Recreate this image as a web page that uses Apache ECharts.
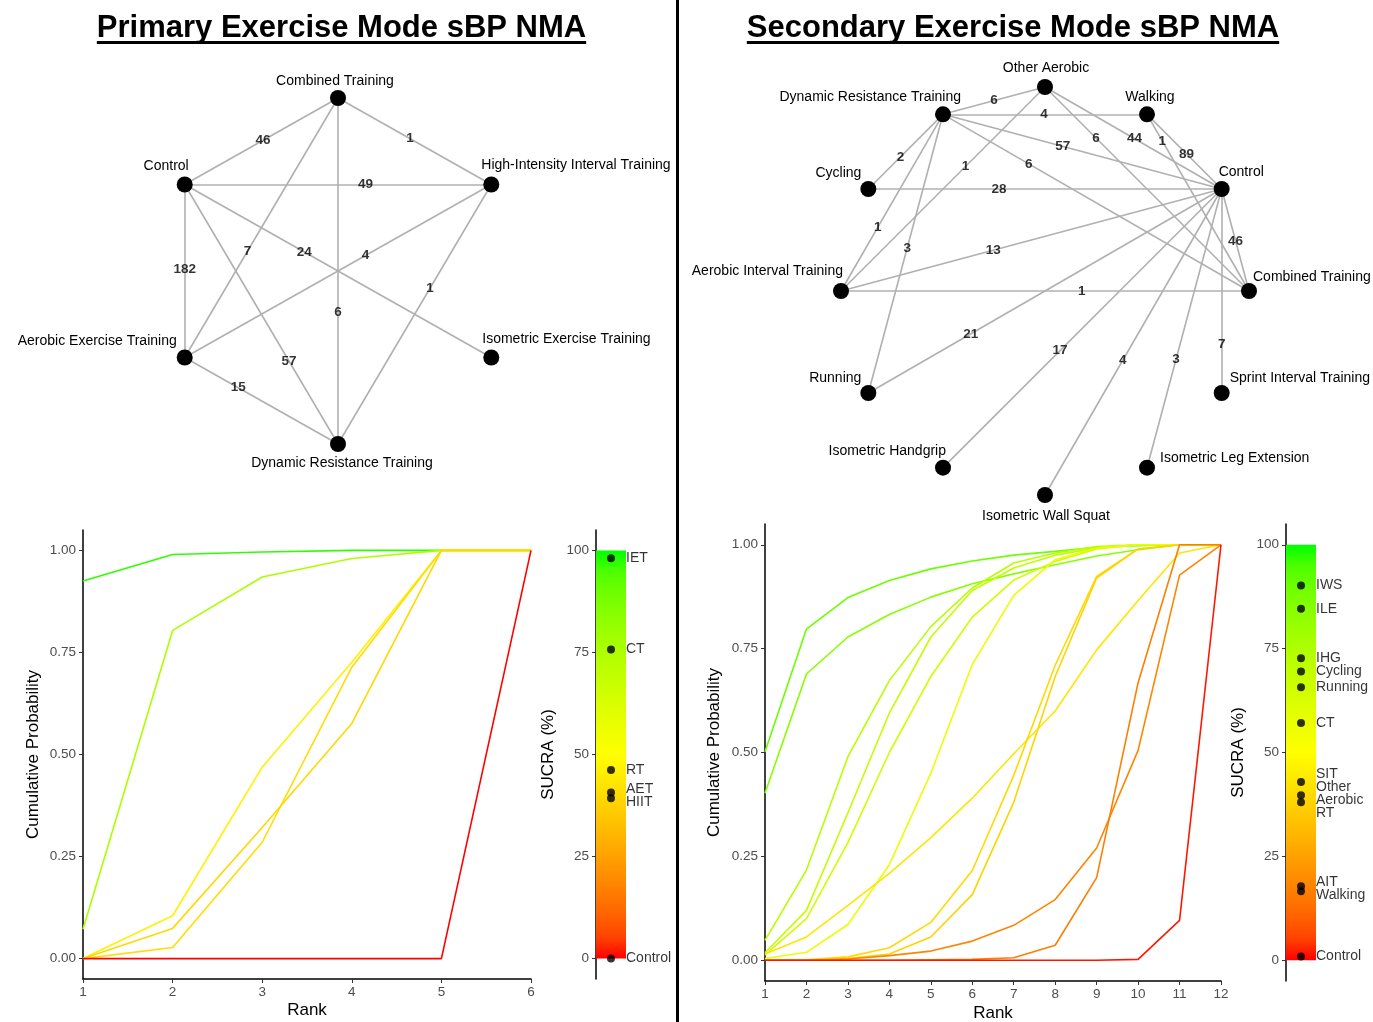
<!DOCTYPE html>
<html>
<head>
<meta charset="utf-8">
<script src="https://cdn.jsdelivr.net/npm/echarts@6/dist/echarts.min.js"></script>
<style>
html,body{margin:0;padding:0;background:#fff;}
#chart{width:1373px;height:1022px;}
</style>
</head>
<body>
<div id="chart"></div>
<script>
// ================= DATA =================
const primaryTitle = 'Primary Exercise Mode sBP NMA';
const secondaryTitle = 'Secondary Exercise Mode sBP NMA';

// Network nodes, listed clockwise around the circle
const primaryNodes = ['Combined Training', 'High-Intensity Interval Training', 'Isometric Exercise Training',
  'Dynamic Resistance Training', 'Aerobic Exercise Training', 'Control'];
const primaryLinks = [
  ['Control', 'Combined Training', 46],
  ['Combined Training', 'High-Intensity Interval Training', 1],
  ['Control', 'High-Intensity Interval Training', 49],
  ['Control', 'Aerobic Exercise Training', 182],
  ['Combined Training', 'Aerobic Exercise Training', 7],
  ['Control', 'Isometric Exercise Training', 24],
  ['Aerobic Exercise Training', 'High-Intensity Interval Training', 4],
  ['Combined Training', 'Dynamic Resistance Training', 6],
  ['High-Intensity Interval Training', 'Dynamic Resistance Training', 1],
  ['Control', 'Dynamic Resistance Training', 57],
  ['Aerobic Exercise Training', 'Dynamic Resistance Training', 15]
];

const secondaryNodes = ['Control', 'Combined Training', 'Sprint Interval Training', 'Isometric Leg Extension',
  'Isometric Wall Squat', 'Isometric Handgrip', 'Running', 'Aerobic Interval Training', 'Cycling',
  'Dynamic Resistance Training', 'Other Aerobic', 'Walking'];
const secondaryLinks = [
  ['Dynamic Resistance Training', 'Other Aerobic', 6],
  ['Dynamic Resistance Training', 'Walking', 4],
  ['Dynamic Resistance Training', 'Control', 57],
  ['Dynamic Resistance Training', 'Combined Training', 6],
  ['Dynamic Resistance Training', 'Cycling', 2],
  ['Dynamic Resistance Training', 'Aerobic Interval Training', 1],
  ['Dynamic Resistance Training', 'Running', 3],
  ['Other Aerobic', 'Aerobic Interval Training', 1],
  ['Other Aerobic', 'Control', 44],
  ['Other Aerobic', 'Combined Training', 6],
  ['Walking', 'Control', 89],
  ['Walking', 'Combined Training', 1],
  ['Cycling', 'Control', 28],
  ['Aerobic Interval Training', 'Control', 13],
  ['Aerobic Interval Training', 'Combined Training', 1],
  ['Control', 'Combined Training', 46],
  ['Control', 'Running', 21],
  ['Control', 'Isometric Handgrip', 17],
  ['Control', 'Isometric Wall Squat', 4],
  ['Control', 'Isometric Leg Extension', 3],
  ['Control', 'Sprint Interval Training', 7]
];

// Rankograms (cumulative probability by rank)
const primaryRanks = [1, 2, 3, 4, 5, 6];
const primaryTreatments = ['IET', 'CT', 'RT', 'AET', 'HIIT', 'Control'];
const primarySucra = [98.1, 75.7, 46.2, 40.7, 39.3, 0.0];
const pCumIET     = [0.925, 0.990, 0.996, 1.000, 1.000, 1.000];
const pCumCT      = [0.072, 0.804, 0.935, 0.980, 1.000, 1.000];
const pCumRT      = [0.000, 0.105, 0.469, 0.726, 1.000, 1.000];
const pCumAET     = [0.000, 0.027, 0.285, 0.714, 1.000, 1.000];
const pCumHIIT    = [0.000, 0.074, 0.321, 0.576, 1.000, 1.000];
const pCumControl = [0.000, 0.000, 0.000, 0.000, 0.000, 1.000];

const secondaryRanks = [1, 2, 3, 4, 5, 6, 7, 8, 9, 10, 11, 12];
const secondaryTreatments = ['IWS', 'ILE', 'IHG', 'Cycling', 'Running', 'CT', 'SIT', 'Other\nAerobic', 'RT', 'AIT', 'Walking', 'Control'];
const secondarySucra = [90.2, 84.6, 72.7, 69.5, 65.7, 57.1, 42.9, 39.7, 38.0, 17.8, 16.6, 0.9];
const sCumIWS     = [0.502, 0.797, 0.873, 0.914, 0.942, 0.961, 0.975, 0.984, 0.994, 0.998, 1.000, 1.000];
const sCumILE     = [0.402, 0.689, 0.778, 0.832, 0.874, 0.906, 0.930, 0.952, 0.973, 0.988, 1.000, 1.000];
const sCumIHG     = [0.048, 0.217, 0.490, 0.673, 0.803, 0.896, 0.956, 0.980, 0.996, 1.000, 1.000, 1.000];
const sCumCycling = [0.018, 0.120, 0.355, 0.595, 0.778, 0.890, 0.944, 0.975, 0.992, 1.000, 1.000, 1.000];
const sCumRunning = [0.013, 0.100, 0.283, 0.500, 0.683, 0.826, 0.915, 0.960, 0.990, 1.000, 1.000, 1.000];
const sCumCT      = [0.004, 0.019, 0.086, 0.230, 0.450, 0.712, 0.878, 0.964, 0.992, 1.000, 1.000, 1.000];
const sCumSIT     = [0.015, 0.056, 0.132, 0.209, 0.295, 0.390, 0.497, 0.600, 0.747, 0.866, 0.980, 1.000];
const sCumOA      = [0.000, 0.001, 0.008, 0.030, 0.091, 0.216, 0.445, 0.710, 0.924, 0.990, 1.000, 1.000];
const sCumRT      = [0.000, 0.000, 0.004, 0.015, 0.056, 0.158, 0.380, 0.683, 0.920, 0.990, 1.000, 1.000];
const sCumAIT     = [0.000, 0.000, 0.003, 0.011, 0.022, 0.046, 0.084, 0.146, 0.270, 0.505, 0.927, 1.000];
const sCumWalking = [0.000, 0.000, 0.000, 0.000, 0.001, 0.002, 0.006, 0.036, 0.199, 0.668, 1.000, 1.000];
const sCumControl = [0.000, 0.000, 0.000, 0.000, 0.000, 0.000, 0.000, 0.000, 0.000, 0.002, 0.096, 1.000];

const probTicks = [0, 0.25, 0.5, 0.75, 1];
const sucraTicks = [0, 25, 50, 75, 100];
const sucraScaleBar = [100];

// ================= STYLE (layout helpers, not data) =================
const FONT = '"Liberation Sans", Arial, Helvetica, sans-serif';
const PROB_RANGE = [-0.05, 1.05];
const SUCRA_RANGE = [-5, 105];
const GRIDS = [
  { left: 161, top: 98, width: 354, height: 346 },   // primary network
  { left: 841, top: 87, width: 408, height: 408 },   // secondary network
  { left: 83, top: 530, width: 448, height: 449 },   // primary rankogram
  { left: 596, top: 530, width: 30, height: 449 },   // primary SUCRA
  { left: 765, top: 524, width: 456, height: 457 },  // secondary rankogram
  { left: 1286, top: 524, width: 30, height: 457 }   // secondary SUCRA
];
// fraction along each link (from its first node) where the study count is written
const primaryEdgeLabelAt = [0.51, 0.47, 0.59, 0.49, 0.59, 0.39, 0.59, 0.62, 0.40, 0.68, 0.35];
const secondaryEdgeLabelAt = [0.50, 0.495, 0.43, 0.28, 0.57, 0.64, 0.48, 0.39, 0.506, 0.25, 0.53, 0.15,
  0.37, 0.40, 0.59, 0.51, 0.71, 0.58, 0.56, 0.61, 0.76];
// node label placement: [align, dx, dy] relative to node centre
const primaryNodeLabel = {
  'Combined Training': ['center', -3, -17],
  'High-Intensity Interval Training': ['left', -10, -19],
  'Isometric Exercise Training': ['left', -9, -18],
  'Dynamic Resistance Training': ['center', 4, 19],
  'Aerobic Exercise Training': ['right', -8, -16],
  'Control': ['right', 4, -18]
};
const secondaryNodeLabel = {
  'Control': ['left', -3, -17],
  'Combined Training': ['left', 4, -14],
  'Sprint Interval Training': ['left', 8, -15],
  'Isometric Leg Extension': ['left', 13, -10],
  'Isometric Wall Squat': ['center', 1, 21],
  'Isometric Handgrip': ['right', 3, -17],
  'Running': ['right', -7, -15],
  'Aerobic Interval Training': ['right', 2, -20],
  'Cycling': ['right', -7, -16],
  'Dynamic Resistance Training': ['right', 18, -17],
  'Other Aerobic': ['center', 1, -19],
  'Walking': ['center', 3, -17]
};

// ---- colour scale: red (0) -> yellow (50) -> green (100), interpolated in CIELAB ----
function toLin(c) { c /= 255; return c <= 0.04045 ? c / 12.92 : Math.pow((c + 0.055) / 1.055, 2.4); }
function toSrgb(c) {
  c = c <= 0.0031308 ? 12.92 * c : 1.055 * Math.pow(c, 1 / 2.4) - 0.055;
  return Math.round(Math.max(0, Math.min(1, c)) * 255);
}
const WHITE = [0.95047, 1.0, 1.08883];
function fLab(t) { return t > 216 / 24389 ? Math.cbrt(t) : (24389 / 27 * t + 16) / 116; }
function fInv(t) { const t3 = t * t * t; return t3 > 216 / 24389 ? t3 : (116 * t - 16) / (24389 / 27); }
function rgb2lab(rgb) {
  const r = toLin(rgb[0]), g = toLin(rgb[1]), b = toLin(rgb[2]);
  const x = (0.4124564 * r + 0.3575761 * g + 0.1804375 * b) / WHITE[0];
  const y = (0.2126729 * r + 0.7151522 * g + 0.0721750 * b) / WHITE[1];
  const z = (0.0193339 * r + 0.1191920 * g + 0.9503041 * b) / WHITE[2];
  const fx = fLab(x), fy = fLab(y), fz = fLab(z);
  return [116 * fy - 16, 500 * (fx - fy), 200 * (fy - fz)];
}
function lab2rgb(lab) {
  const fy = (lab[0] + 16) / 116, fx = fy + lab[1] / 500, fz = fy - lab[2] / 200;
  const x = fInv(fx) * WHITE[0], y = fInv(fy) * WHITE[1], z = fInv(fz) * WHITE[2];
  const r = 3.2404542 * x - 1.5371385 * y - 0.4985314 * z;
  const g = -0.9692660 * x + 1.8760108 * y + 0.0415560 * z;
  const b = 0.0556434 * x - 0.2040259 * y + 1.0572252 * z;
  return [toSrgb(r), toSrgb(g), toSrgb(b)];
}
const LAB_RED = rgb2lab([255, 0, 0]), LAB_YEL = rgb2lab([255, 255, 0]), LAB_GRN = rgb2lab([0, 255, 0]);
function sucraColor(v) {
  let a, b, t;
  if (v >= 50) { a = LAB_YEL; b = LAB_GRN; t = (v - 50) / 50; }
  else { a = LAB_RED; b = LAB_YEL; t = v / 50; }
  const c = lab2rgb([a[0] + t * (b[0] - a[0]), a[1] + t * (b[1] - a[1]), a[2] + t * (b[2] - a[2])]);
  return 'rgb(' + c.join(',') + ')';
}

function networkSeries(nodes, links, startDeg, nodeLabel, edgeAt, axisIdx) {
  const n = nodes.length;
  const pos = {};
  nodes.forEach(function (name, i) {
    const a = (startDeg - i * 360 / n) * Math.PI / 180;
    pos[name] = [Math.cos(a), Math.sin(a)];
  });
  const graph = {
    type: 'graph', coordinateSystem: 'cartesian2d', xAxisIndex: axisIdx, yAxisIndex: axisIdx,
    layout: 'none', symbol: 'circle', symbolSize: 16, silent: true, z: 2,
    itemStyle: { color: '#000' },
    lineStyle: { color: '#b0b0b0', width: 1.6, opacity: 1, curveness: 0 },
    label: { show: true, color: '#000', fontSize: 14, fontFamily: FONT },
    data: nodes.map(function (name) {
      const s = nodeLabel[name];
      return {
        name: name, value: pos[name],
        label: { show: true, position: [8 + s[1], 8 + s[2]], align: s[0], verticalAlign: 'middle' }
      };
    }),
    links: links.map(function (l) { return { source: l[0], target: l[1], value: l[2] }; })
  };
  const counts = {
    type: 'scatter', xAxisIndex: axisIdx, yAxisIndex: axisIdx, silent: true, z: 3,
    symbolSize: 1, itemStyle: { color: 'rgba(0,0,0,0)' },
    label: {
      show: true, position: 'inside', color: '#000', fontWeight: 'bold', fontSize: 13.5, fontFamily: FONT,
      formatter: function (p) { return p.value[2]; }
    },
    data: links.map(function (l, k) {
      const p = pos[l[0]], q = pos[l[1]], t = edgeAt[k];
      return [p[0] + t * (q[0] - p[0]), p[1] + t * (q[1] - p[1]), l[2]];
    })
  };
  return [graph, counts];
}

function rankSeries(names, cums, sucras, ranks, axisIdx) {
  return names.map(function (nm, i) {
    const c = sucraColor(sucras[i]);
    return {
      type: 'line', name: nm, xAxisIndex: axisIdx, yAxisIndex: axisIdx, silent: true,
      symbol: 'none', showSymbol: false, z: 2 + i * 0.01,
      lineStyle: { color: c, width: 1.6 }, itemStyle: { color: c },
      data: ranks.map(function (r, k) { return [r, cums[i][k]]; })
    };
  });
}

// simple vertical repel so that neighbouring SUCRA labels do not overlap
const LABEL_LINE = 13;
function repelOffsets(names, values, pxPerUnit) {
  const items = values.map(function (v, i) {
    return { i: i, y: -v * pxPerUnit, y0: -v * pxPerUnit, h: names[i].split('\n').length * LABEL_LINE };
  });
  items.sort(function (a, b) { return a.y - b.y; });
  for (let iter = 0; iter < 500; iter++) {
    let moved = false;
    for (let k = 0; k < items.length - 1; k++) {
      const a = items[k], b = items[k + 1];
      const need = (a.h + b.h) / 2, d = b.y - a.y;
      if (d < need - 0.01) { const push = (need - d) / 2; a.y -= push; b.y += push; moved = true; }
    }
    if (!moved) break;
  }
  const out = [];
  items.forEach(function (it) { out[it.i] = it.y - it.y0; });
  return out;
}

function sucraSeries(names, sucras, axisIdx) {
  const g = GRIDS[axisIdx];
  const offs = repelOffsets(names, sucras, g.height / (SUCRA_RANGE[1] - SUCRA_RANGE[0]));
  const stops = [];
  for (let k = 0; k <= 20; k++) stops.push({ offset: k / 20, color: sucraColor(100 - k * 5) });
  return [
    {
      type: 'bar', xAxisIndex: axisIdx, yAxisIndex: axisIdx, silent: true, barWidth: 30, z: 1,
      itemStyle: { color: new echarts.graphic.LinearGradient(0, 0, 0, 1, stops) },
      data: sucraScaleBar
    },
    {
      type: 'scatter', xAxisIndex: axisIdx, yAxisIndex: axisIdx, silent: true, z: 3,
      symbolSize: 8, itemStyle: { color: '#000' },
      label: {
        show: true, position: 'right', distance: 11, color: '#000', fontSize: 14, lineHeight: LABEL_LINE,
        fontFamily: FONT, formatter: '{b}'
      },
      data: names.map(function (nm, i) {
        return { name: nm, value: [0, sucras[i]], label: { offset: [0, offs[i]] } };
      })
    }
  ];
}

const tickLabelStyle = { color: '#4d4d4d', fontSize: 13.5, fontFamily: FONT };
const axisNameStyle = { color: '#000', fontSize: 17, fontFamily: FONT };
const blackLine = { show: true, onZero: false, lineStyle: { color: '#000', width: 1.5 } };

function rankXAxis(gridIdx, ranks, gap) {
  return {
    type: 'value', gridIndex: gridIdx, min: ranks[0], max: ranks[ranks.length - 1], interval: 1,
    axisLine: blackLine, splitLine: { show: false },
    axisTick: { show: true, length: 4, lineStyle: { color: '#333' } },
    axisLabel: Object.assign({ margin: 6 }, tickLabelStyle),
    name: 'Rank', nameLocation: 'middle', nameGap: gap, nameTextStyle: axisNameStyle
  };
}
function probYAxis(gridIdx, gap) {
  return {
    type: 'value', gridIndex: gridIdx, min: PROB_RANGE[0], max: PROB_RANGE[1],
    axisLine: blackLine, splitLine: { show: false },
    axisTick: { show: true, length: 4, customValues: probTicks, lineStyle: { color: '#333' } },
    axisLabel: Object.assign({ margin: 7, customValues: probTicks, formatter: function (v) { return v.toFixed(2); } }, tickLabelStyle),
    name: 'Cumulative Probability', nameLocation: 'middle', nameGap: gap, nameTextStyle: axisNameStyle
  };
}
function sucraYAxis(gridIdx, gap) {
  return {
    type: 'value', gridIndex: gridIdx, min: SUCRA_RANGE[0], max: SUCRA_RANGE[1],
    axisLine: blackLine, splitLine: { show: false },
    axisTick: { show: true, length: 4, customValues: sucraTicks, lineStyle: { color: '#333' } },
    axisLabel: Object.assign({ margin: 7, customValues: sucraTicks }, tickLabelStyle),
    name: 'SUCRA (%)', nameLocation: 'middle', nameGap: gap, nameTextStyle: axisNameStyle
  };
}
function hiddenAxis(gridIdx) {
  return { type: 'value', gridIndex: gridIdx, min: -1, max: 1, show: false, splitLine: { show: false } };
}
function hiddenCat(gridIdx) {
  return { type: 'category', gridIndex: gridIdx, data: ['SUCRA'], show: false, boundaryGap: true };
}

// measure title widths for the underline
const measureCtx = document.createElement('canvas').getContext('2d');
const titleFont = 'bold 31px ' + FONT;
measureCtx.font = titleFont;
const wPrimary = measureCtx.measureText(primaryTitle).width;
const wSecondary = measureCtx.measureText(secondaryTitle).width;

const chart = echarts.init(document.getElementById('chart'), null, { renderer: 'canvas' });

const series = []
  .concat(networkSeries(primaryNodes, primaryLinks, 90, primaryNodeLabel, primaryEdgeLabelAt, 0))
  .concat(networkSeries(secondaryNodes, secondaryLinks, 30, secondaryNodeLabel, secondaryEdgeLabelAt, 1))
  .concat(rankSeries(primaryTreatments,
    [pCumIET, pCumCT, pCumRT, pCumAET, pCumHIIT, pCumControl], primarySucra, primaryRanks, 2))
  .concat(sucraSeries(primaryTreatments, primarySucra, 3))
  .concat(rankSeries(secondaryTreatments,
    [sCumIWS, sCumILE, sCumIHG, sCumCycling, sCumRunning, sCumCT, sCumSIT, sCumOA, sCumRT, sCumAIT, sCumWalking, sCumControl],
    secondarySucra, secondaryRanks, 4))
  .concat(sucraSeries(secondaryTreatments, secondarySucra, 5));

chart.setOption({
  animation: false,
  backgroundColor: '#fff',
  textStyle: { fontFamily: FONT },
  grid: GRIDS.map(function (g) { return Object.assign({ outerBoundsMode: 'none' }, g); }),
  xAxis: [
    hiddenAxis(0), hiddenAxis(1),
    rankXAxis(2, primaryRanks, 23), hiddenCat(3),
    rankXAxis(4, secondaryRanks, 24), hiddenCat(5)
  ],
  yAxis: [
    hiddenAxis(0), hiddenAxis(1),
    probYAxis(2, 41), sucraYAxis(3, 39),
    probYAxis(4, 42), sucraYAxis(5, 39)
  ],
  graphic: [
    { type: 'text', x: 341.5, y: 28, silent: true,
      style: { text: primaryTitle, font: titleFont, fill: '#000', align: 'center', verticalAlign: 'middle' } },
    { type: 'rect', silent: true, shape: { x: 341.5 - wPrimary / 2, y: 41, width: wPrimary, height: 3 }, style: { fill: '#000' } },
    { type: 'text', x: 1013, y: 28, silent: true,
      style: { text: secondaryTitle, font: titleFont, fill: '#000', align: 'center', verticalAlign: 'middle' } },
    { type: 'rect', silent: true, shape: { x: 1013 - wSecondary / 2, y: 41, width: wSecondary, height: 3 }, style: { fill: '#000' } },
    { type: 'rect', silent: true, shape: { x: 676, y: 0, width: 3, height: 1022 }, style: { fill: '#000' } }
  ],
  series: series
});
</script>
</body>
</html>
